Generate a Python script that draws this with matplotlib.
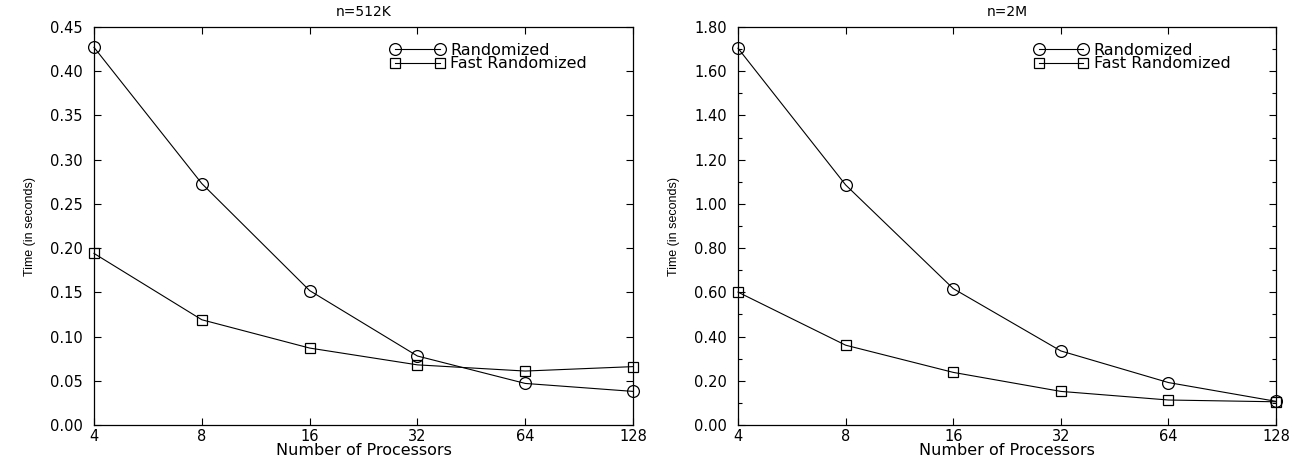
import matplotlib
matplotlib.use("Agg")
import matplotlib.pyplot as plt
from matplotlib.ticker import FixedLocator, NullLocator, MultipleLocator, FuncFormatter

plt.rcParams['font.family'] = ['DejaVu Sans']

procs = [4, 8, 16, 32, 64, 128]
proc_labels = ['4', '8', '16', '32', '64', '128']

# n=512K
rand_512k = [0.427, 0.273, 0.152, 0.078, 0.047, 0.038]
fast_512k = [0.194, 0.119, 0.087, 0.068, 0.061, 0.066]
# n=2M
rand_2m = [1.704, 1.086, 0.617, 0.335, 0.192, 0.107]
fast_2m = [0.601, 0.361, 0.238, 0.152, 0.113, 0.105]

titles = ['n=512K', 'n=2M']
ylims = [0.45, 1.80]
ysteps = [0.05, 0.20]
yminor = [None, 0.10]

fig = plt.figure(figsize=(12.99, 4.61), dpi=100)
ax1 = fig.add_axes([94 / 1299, 36 / 461, 539 / 1299, 398 / 461])
ax2 = fig.add_axes([738 / 1299, 36 / 461, 538 / 1299, 398 / 461])

for ax, rnd, fst, title, ytop, ystep, ymin in zip(
        [ax1, ax2], [rand_512k, rand_2m], [fast_512k, fast_2m],
        titles, ylims, ysteps, yminor):
    ax.plot(procs, rnd, color='black', lw=0.8, marker='o', ms=8.5,
            mfc='none', mec='black', mew=0.9, label='Randomized',
            clip_on=False, zorder=3)
    ax.plot(procs, fst, color='black', lw=0.8, marker='s', ms=7,
            mfc='none', mec='black', mew=0.9, label='Fast Randomized',
            clip_on=False, zorder=3)
    ax.set_xscale('log', base=2)
    ax.set_xlim(4, 128)
    ax.set_ylim(0, ytop)
    ax.xaxis.set_major_locator(FixedLocator(procs))
    ax.set_xticklabels(proc_labels)
    ax.xaxis.set_minor_locator(NullLocator())
    ax.yaxis.set_major_locator(MultipleLocator(ystep))
    if ymin:
        ax.yaxis.set_minor_locator(MultipleLocator(ymin))
    else:
        ax.yaxis.set_minor_locator(NullLocator())
    ax.yaxis.set_major_formatter(FuncFormatter(lambda v, p: f'{v:.2f}'))
    ax.tick_params(which='both', direction='in', top=True, right=True,
                   labelsize=10.5, width=0.8)
    ax.tick_params(which='major', length=5)
    ax.tick_params(which='minor', length=3)
    ax.tick_params(axis='x', pad=3)
    ax.tick_params(axis='y', pad=8)
    for sp in ax.spines.values():
        sp.set_linewidth(0.9)
    ax.set_title(title, fontsize=10, pad=8)
    ax.set_xlabel('Number of Processors', fontsize=11.5, labelpad=-1)
    ax.set_ylabel('Time (in seconds)', fontsize=9, labelpad=10,
                  family=['Liberation Sans Narrow', 'Liberation Sans'])
    ax.legend(loc='upper left', bbox_to_anchor=(0.55, 0.96), frameon=False,
              numpoints=2, fontsize=11.5, handlelength=3.4,
              handletextpad=0.35, labelspacing=-0.1, borderpad=0,
              borderaxespad=0)

fig.savefig('out.png', dpi=100)
